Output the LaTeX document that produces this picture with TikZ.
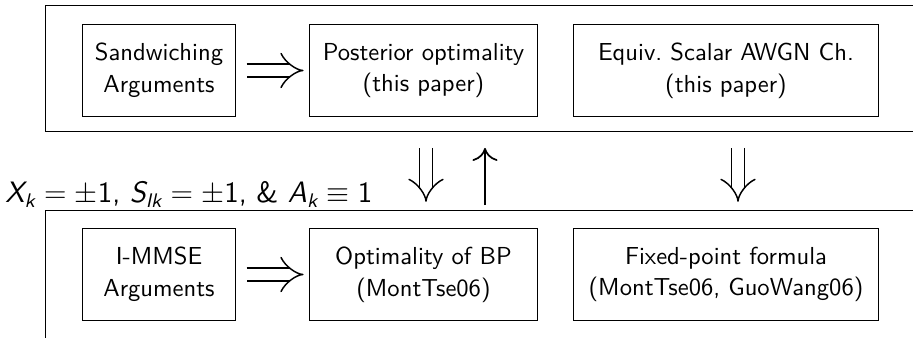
\documentclass[tikz,border=0pt]{standalone}
\usepackage{amsmath}
\usetikzlibrary{arrows.meta}

\newcommand{\sit}[1]{\text{\itshape #1}}

\tikzset{
  frame/.style={draw, inner sep=0pt},
  blk/.style={draw, align=center, font=\sffamily, inner sep=0pt, minimum height=37pt},
  implies/.style={double, double distance=4.6pt, line width=0.6pt, -{Implies}},
  uparr/.style={line width=0.7pt, -{To[length=5.3pt, width=10.2pt]}}
}

\begin{document}
\begin{tikzpicture}[x=0.4065pt, y=-0.4065pt]
    \useasboundingbox (0,0) rectangle (913,338);
    \clip (0,0) rectangle (913,338);
    % outer frames
    \node[frame, anchor=north west, minimum width=363.8pt, minimum height=51.2pt] (upper) at (45,5) {};
    \node[frame, anchor=north west, minimum width=363.8pt, minimum height=70pt] (lower) at (45,210) {};
    % upper row
    \node[blk, minimum width=61.8pt] (sand) at (159,70.5) {Sandwiching\\[0.9pt]Arguments};
    \node[blk, minimum width=92.3pt] (post) at (423.5,70.5) {Posterior optimality\\[0.9pt](this paper)};
    \node[blk, minimum width=123.6pt] (equiv) at (726,70.5) {Equiv.\ Scalar AWGN Ch.\\[0.9pt](this paper)};
    % lower row
    \node[blk, minimum width=61.8pt] (mmse) at (159,274.5) {I-MMSE\\[0.9pt]Arguments};
    \node[blk, minimum width=92.3pt] (bp) at (423.5,274.5) {Optimality of BP\\[0.9pt](MontTse06)};
    \node[blk, minimum width=123.6pt] (fixpt) at (726,274.5) {Fixed-point formula\\[0.9pt](MontTse06, GuoWang06)};
    \node[anchor=base west, inner sep=0pt, font=\large\sffamily] (cond) at (5,203)
        {$\sit{X}_{\sit{k}}=\pm\text{1}$, $\sit{S}_{\sit{lk}}=\pm\text{1}$, \& $\sit{A}_{\sit{k}}\equiv\text{1}$};
    % implications
    \draw[implies, shorten <=4.5pt, shorten >=2.4pt] (sand) -- (post);
    \draw[implies, shorten <=4.5pt, shorten >=2.4pt] (mmse) -- (bp);
    \coordinate (c1) at (426,0);
    \coordinate (c2) at (485,0);
    \coordinate (c3) at (738,0);
    \draw[implies, shorten <=6.5pt, shorten >=3.3pt] (upper.south -| c1) -- (lower.north -| c1);
    \draw[uparr, shorten <=2pt, shorten >=6.5pt] (lower.north -| c2) -- (upper.south -| c2);
    \draw[implies, shorten <=6.5pt, shorten >=3.3pt] (upper.south -| c3) -- (lower.north -| c3);
\end{tikzpicture}
\end{document}
